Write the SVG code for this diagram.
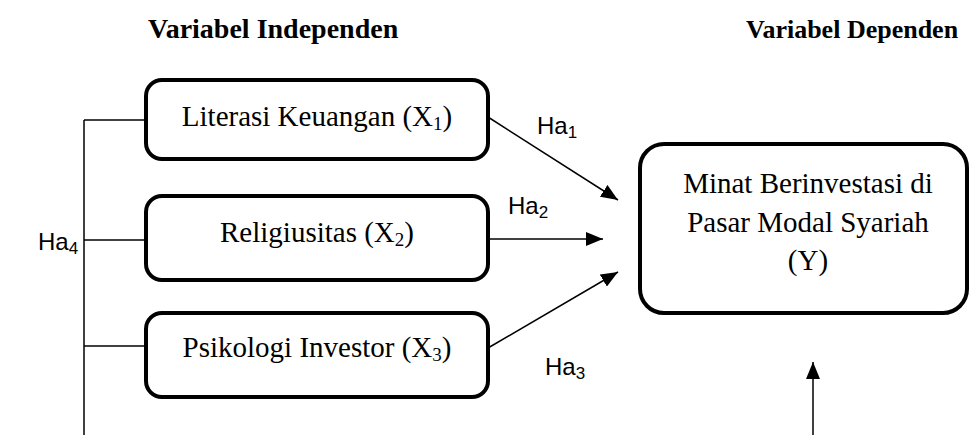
<svg xmlns="http://www.w3.org/2000/svg" width="971" height="435" viewBox="0 0 971 435">
<style>
.box{fill:#fff;stroke:#000;stroke-width:4}
.t{font-family:"Liberation Serif","Times New Roman",serif;font-size:29px;fill:#000}
.h{font-family:"Liberation Serif","Times New Roman",serif;font-size:28px;font-weight:bold;fill:#000}
.ha{font-family:"Liberation Sans",Arial,sans-serif;font-size:24px;fill:#000}
.ln{stroke:#000;stroke-width:1.5;fill:none}
</style>
<defs>
<marker id="ah2" viewBox="0 0 17 14" refX="17" refY="7" markerWidth="17" markerHeight="14" markerUnits="userSpaceOnUse" orient="auto">
<path d="M0,0 L17,7 L0,14 z" fill="#000"/>
</marker>
</defs>
<text class="h" x="148" y="38">Variabel Independen</text>
<text class="h" x="746" y="38" style="font-size:26px">Variabel Dependen</text>
<g id="connectors">
<line class="ln" x1="84" y1="120" x2="84" y2="435"/>
<line class="ln" x1="84" y1="120" x2="145" y2="120"/>
<line class="ln" x1="84" y1="240" x2="145" y2="240"/>
<line class="ln" x1="84" y1="346" x2="145" y2="346"/>
<line class="ln" x1="488" y1="117" x2="618" y2="200" marker-end="url(#ah2)"/>
<line class="ln" x1="488" y1="239" x2="603" y2="239" marker-end="url(#ah2)"/>
<line class="ln" x1="488" y1="348" x2="618" y2="272" marker-end="url(#ah2)"/>
<line class="ln" x1="813" y1="435" x2="813" y2="362" marker-end="url(#ah2)"/>
<text class="ha" x="537" y="134">Ha<tspan font-size="17" dy="4">1</tspan></text>
<text class="ha" x="508" y="214">Ha<tspan font-size="17" dy="4">2</tspan></text>
<text class="ha" x="545" y="375">Ha<tspan font-size="17" dy="4">3</tspan></text>
<text class="ha" x="38" y="250">Ha<tspan font-size="17" dy="4">4</tspan></text>
</g>
<g id="x1">
<rect class="box" x="146" y="80" width="342" height="79" rx="16"/>
<text class="t" x="317" y="126" text-anchor="middle">Literasi Keuangan (X<tspan font-size="19" dy="4">1</tspan><tspan dy="-4">)</tspan></text>
</g>
<g id="x2">
<rect class="box" x="146" y="196" width="342" height="84" rx="16"/>
<text class="t" x="317" y="242" text-anchor="middle">Religiusitas (X<tspan font-size="19" dy="4">2</tspan><tspan dy="-4">)</tspan></text>
</g>
<g id="x3">
<rect class="box" x="146" y="313" width="342" height="84" rx="16"/>
<text class="t" x="317" y="357" text-anchor="middle">Psikologi Investor (X<tspan font-size="19" dy="4">3</tspan><tspan dy="-4">)</tspan></text>
</g>
<g id="y">
<rect class="box" x="640" y="144" width="327" height="169" rx="24"/>
<text class="t" x="808" y="193" text-anchor="middle">Minat Berinvestasi di</text>
<text class="t" x="808" y="232" text-anchor="middle">Pasar Modal Syariah</text>
<text class="t" x="808" y="270" text-anchor="middle">(Y)</text>
</g>
</svg>
